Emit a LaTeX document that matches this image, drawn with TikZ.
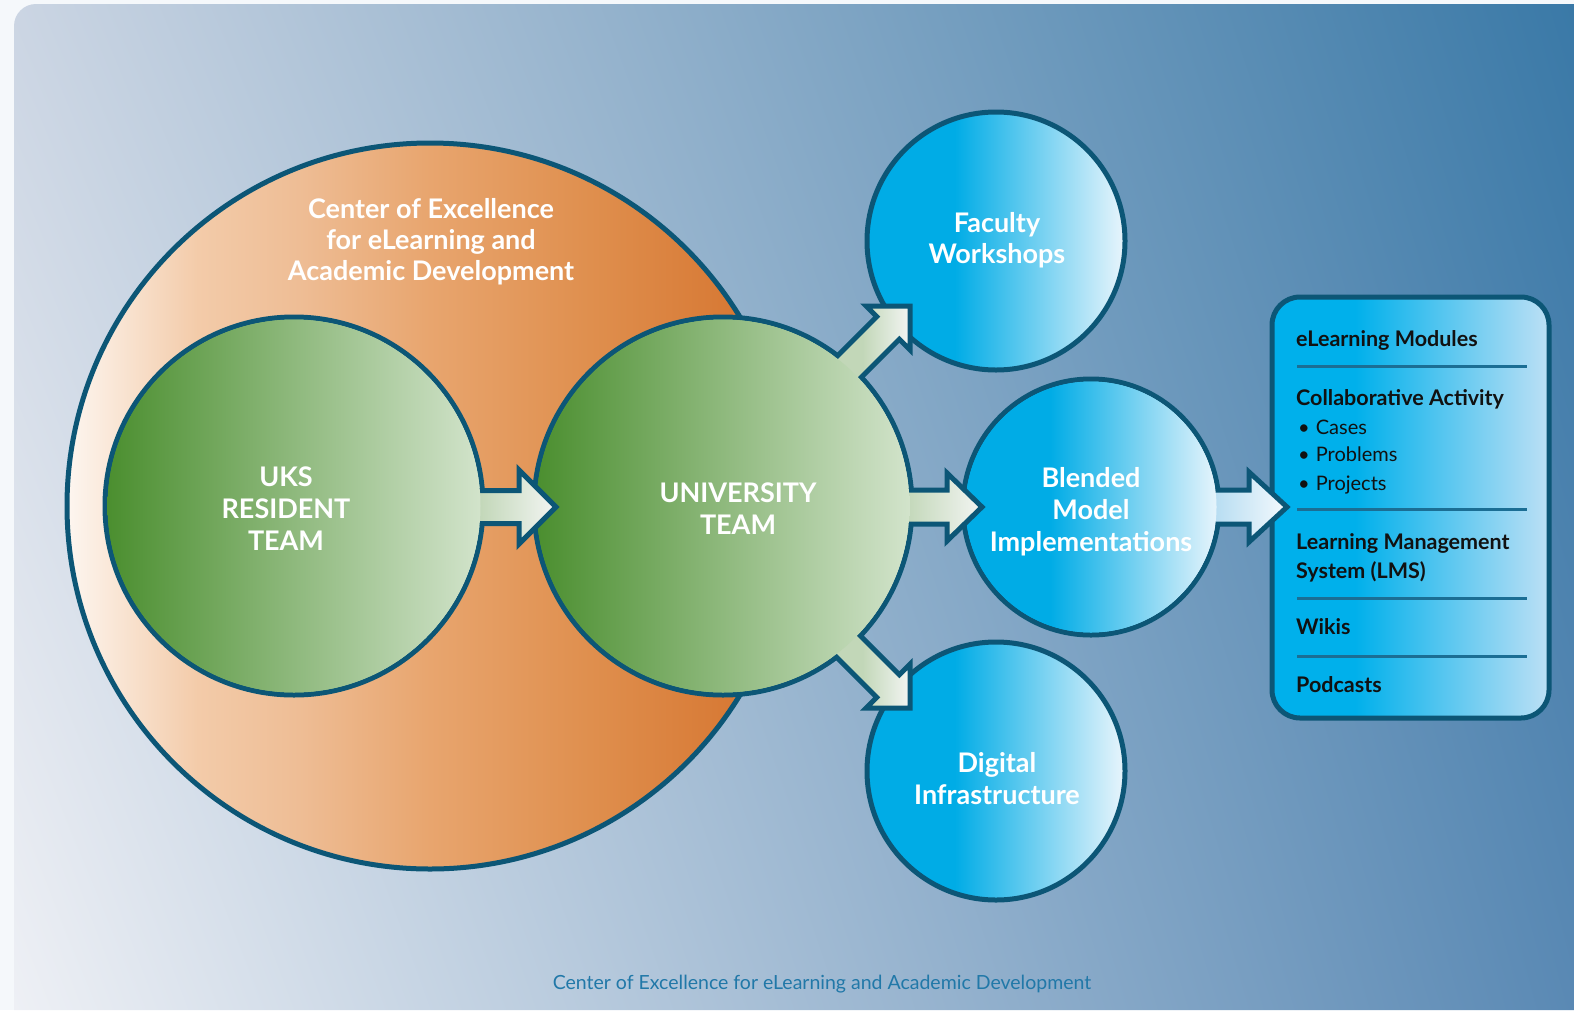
\documentclass[tikz,border=0pt]{standalone}
\usepackage{fontspec}
\usetikzlibrary{shadings}
\setmainfont{Lato}
\definecolor{edge}{HTML}{0C5676}
\definecolor{pagebg}{HTML}{F5F8FB}
\definecolor{bgTL}{HTML}{CBD5E3}
\definecolor{bgBL}{HTML}{EEF0F5}
\definecolor{bgTR}{HTML}{3A79A7}
\definecolor{bgBR}{HTML}{5A89B4}
\definecolor{orA}{HTML}{FDF6F0}
\definecolor{orB}{HTML}{F3CBA9}
\definecolor{orC}{HTML}{EEBD95}
\definecolor{orD}{HTML}{E8A56E}
\definecolor{orE}{HTML}{DF8F4E}
\definecolor{orF}{HTML}{D4702A}
\definecolor{grL}{HTML}{4A8E2E}
\definecolor{grR}{HTML}{D3E4CC}
\definecolor{blL}{HTML}{00ACE6}
\definecolor{blR}{HTML}{E9F5FC}
\definecolor{bxL}{HTML}{00B0EB}
\definecolor{bxR}{HTML}{BDE0F5}
\definecolor{agL}{HTML}{C2D7B8}
\definecolor{agR}{HTML}{F3F5F3}
\definecolor{abL}{HTML}{B9DEF2}
\definecolor{abR}{HTML}{F4F9FD}
\definecolor{divider}{HTML}{1B6E94}
\definecolor{boxtext}{HTML}{111111}
\definecolor{foot}{HTML}{2178A8}
\pgfdeclarehorizontalshading{orangesh}{100bp}{color(0bp)=(orA); color(25bp)=(orA); color(34bp)=(orB); color(41bp)=(orC); color(50bp)=(orD); color(61bp)=(orE); color(75bp)=(orF); color(100bp)=(orF)}
\pgfdeclarehorizontalshading{greensh}{100bp}{color(0bp)=(grL); color(25bp)=(grL); color(75bp)=(grR); color(100bp)=(grR)}
\pgfdeclarehorizontalshading{bluesh}{100bp}{color(0bp)=(blL); color(25bp)=(blL); color(42bp)=(blL); color(75bp)=(blR); color(100bp)=(blR)}
\pgfdeclarehorizontalshading{boxsh}{100bp}{color(0bp)=(bxL); color(25bp)=(bxL); color(40bp)=(bxL); color(75bp)=(bxR); color(100bp)=(bxR)}
\pgfdeclarehorizontalshading{argsh}{100bp}{color(0bp)=(agL); color(25bp)=(agL); color(40bp)=(agL); color(75bp)=(agR); color(100bp)=(agR)}
\pgfdeclarehorizontalshading{argdsh}{100bp}{color(0bp)=(agL); color(25bp)=(agL); color(52bp)=(agL); color(75bp)=(agR); color(100bp)=(agR)}
\pgfdeclarehorizontalshading{arbsh}{100bp}{color(0bp)=(abL); color(25bp)=(abL); color(40bp)=(abL); color(75bp)=(abR); color(100bp)=(abR)}
% block arrow: #1 tip coordinate, #2 angle, #3 back length, #4 head length, #5 head half width, #6 shaft half width, #7 shading
\newcommand\blockarr[7]{%
  \begin{scope}[shift={(#1)}, rotate=#2]
    \draw[arrline, shading=#7] (-#3,#6) -- (-#4,#6) -- (-#4,#5) -- (0,0) -- (-#4,-#5) -- (-#4,-#6) -- (-#3,-#6) -- cycle;
  \end{scope}}
% refill a circle interior: #1 centre, #2 inner radius, #3 outer radius, #4 shading
\newcommand\refillcirc[4]{%
  \begin{scope}
    \clip (#1) circle[radius=#2pt];
    \shade[shading=#4] (#1) circle[radius=#3pt];
  \end{scope}}
\begin{document}
\begin{tikzpicture}[x=1pt,y=-1pt,
  outl/.style={draw=edge, line width=5pt},
  arrline/.style={draw=edge, line width=5pt, line join=miter},
  ctext/.style={text=white, font=\bfseries\fontsize{27}{32}\selectfont, anchor=base, inner sep=0pt},
  btitle/.style={text=boxtext, font=\bfseries\fontsize{21.5}{25}\selectfont, anchor=base west, inner sep=0pt},
  bitem/.style={text=boxtext, font=\fontsize{20}{24}\selectfont, anchor=base west, inner sep=0pt},
  divline/.style={draw=divider, line width=3pt},
  foottext/.style={text=foot, font=\fontsize{19.5}{23}\selectfont, anchor=base, inner sep=0pt}]
\useasboundingbox (0,0) rectangle (1574,1010);
\fill[pagebg] (0,0) rectangle (1574,1010);
\shade[upper left=bgTL, upper right=bgTR, lower left=bgBL, lower right=bgBR]
  (14,1010) -- (14,26) to[out=90,in=180] (36,4) -- (1574,4) -- (1574,1010) -- cycle;

\coordinate (orc) at (430,506);
\coordinate (uks) at (294,506);
\coordinate (uni) at (723,506);
\coordinate (fac) at (996,241);
\coordinate (ble) at (1091,507);
\coordinate (dig) at (996,771);
\coordinate (tipA) at (556,507);
\coordinate (tipB) at (982,507);
\coordinate (tipC) at (1287,507);
\coordinate (tipU) at (910,306);
\coordinate (tipD) at (910,708);

% blue circles and the list box
\draw[outl, shading=bluesh] (fac) circle[radius=129pt];
\draw[outl, shading=bluesh] (dig) circle[radius=129pt];
\draw[outl, shading=bluesh] (ble) circle[radius=128pt];
\draw[outl, shading=boxsh, rounded corners=28pt] (1272,297) rectangle (1549,718);

% arrow blended -> box
\blockarr{tipC}{0}{100}{38}{35}{17}{arbsh}
\refillcirc{ble}{125.5}{128}{bluesh}

% orange circle and green circles
\draw[outl, shading=orangesh] (orc) circle[radius=363pt];
\draw[outl, shading=greensh] (uks) circle[radius=189pt];
\draw[outl, shading=greensh] (uni) circle[radius=189pt];

% arrows out of the university circle
\blockarr{tipU}{45}{130}{31}{31}{16}{argdsh}
\blockarr{tipD}{-45}{130}{31}{31}{16}{argdsh}
\blockarr{tipB}{0}{110}{35}{34}{17}{argsh}
\refillcirc{uni}{186.5}{189}{greensh}

% arrow UKS -> university
\blockarr{tipA}{0}{110}{37}{37}{16.5}{argsh}
\refillcirc{uks}{186.5}{189}{greensh}

% texts
\node[ctext] (t1) at (431,218) {Center of Excellence};
\node[ctext] (t2) at (431,249) {for eLearning and};
\node[ctext] (t3) at (431,280) {Academic Development};

\node[ctext] (u1) at (286,486) {UKS};
\node[ctext] (u2) at (286,518) {RESIDENT};
\node[ctext] (u3) at (286,550) {TEAM};

\node[ctext] (v1) at (738,502) {UNIVERSITY};
\node[ctext] (v2) at (738,534) {TEAM};

\node[ctext] (f1) at (997,232) {Faculty};
\node[ctext] (f2) at (997,263) {Workshops};

\node[ctext] (b1) at (1091,487) {Blended};
\node[ctext] (b2) at (1091,519) {Model};
\node[ctext] (b3) at (1091,551) {Implementations};

\node[ctext] (d1) at (997,772) {Digital};
\node[ctext] (d2) at (997,804) {Infrastructure};

\node[btitle] (m1) at (1296,346.7) {eLearning Modules};
\draw[divline] (1297,366.7) -- (1527,366.7);
\node[btitle] (m2) at (1296,405) {Collaborative Activity};
\node[bitem] (m3) at (1298,434) {\textbullet\hspace{6pt}Cases};
\node[bitem] (m4) at (1298,461.7) {\textbullet\hspace{6pt}Problems};
\node[bitem] (m5) at (1298,490.7) {\textbullet\hspace{6pt}Projects};
\draw[divline] (1297,509) -- (1527,509);
\node[btitle] (m6) at (1296,549) {Learning Management};
\node[btitle] (m7) at (1296,578) {System (LMS)};
\draw[divline] (1297,598) -- (1527,598);
\node[btitle] (m8) at (1296,634) {Wikis};
\draw[divline] (1297,656) -- (1527,656);
\node[btitle] (m9) at (1296,692) {Podcasts};

\node[foottext] (ft) at (822,989) {Center of Excellence for eLearning and Academic Development};
\end{tikzpicture}
\end{document}
